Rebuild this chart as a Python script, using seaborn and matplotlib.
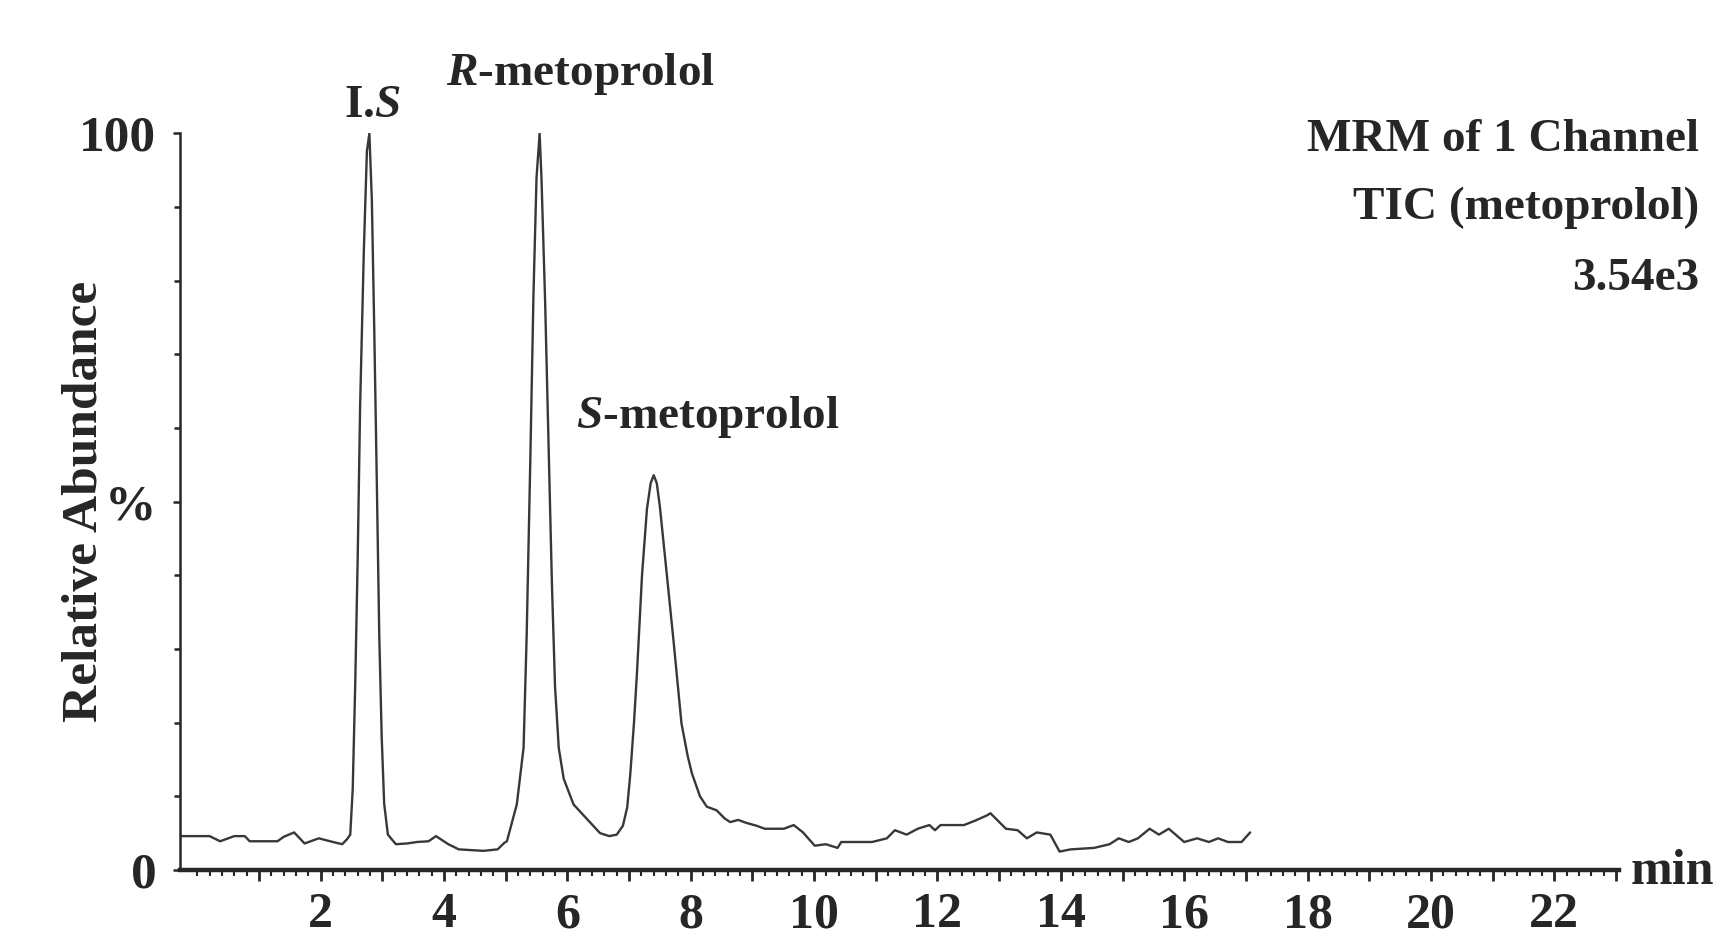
# MRM chromatogram of metoprolol enantiomers, redrawn with seaborn
import matplotlib
matplotlib.use('Agg')
import matplotlib.pyplot as plt
import seaborn as sns
import numpy as np
from matplotlib.ticker import FixedLocator

# retention time (min) and relative abundance (%)
time_min = [
    -0.28, 0.20, 0.37, 0.60, 0.77, 0.85, 1.30, 1.40, 1.57, 1.74, 1.97, 2.20, 2.35, 2.43,
    2.48, 2.52, 2.56, 2.60, 2.64, 2.70, 2.75, 2.79, 2.83, 2.87, 2.91, 2.95, 2.99, 3.03, 3.09,
    3.22, 3.40, 3.56, 3.75, 3.87, 4.07, 4.24, 4.64, 4.87, 4.98,
    5.02, 5.18, 5.29, 5.34, 5.40, 5.45, 5.50, 5.55, 5.58, 5.64, 5.69, 5.75, 5.80, 5.86,
    5.94, 6.10, 6.32, 6.53, 6.68, 6.80, 6.90, 6.97, 7.02, 7.08, 7.13, 7.21, 7.29, 7.35,
    7.40, 7.45, 7.50, 7.61, 7.72, 7.85, 7.95, 8.02, 8.15, 8.26, 8.42, 8.55, 8.64, 8.77,
    8.90, 9.07, 9.20, 9.51, 9.67, 9.82, 10.01, 10.19, 10.38, 10.44, 10.94, 11.18, 11.31,
    11.50, 11.68, 11.87, 11.96, 12.05, 12.43, 12.61, 12.80, 12.86, 13.11, 13.30, 13.45,
    13.61, 13.83, 13.98, 14.16, 14.54, 14.79, 14.94, 15.10, 15.25, 15.44, 15.59, 15.75,
    16.00, 16.21, 16.40, 16.55, 16.71, 16.93, 17.07,
]
abundance = [
    4.6, 4.6, 3.9, 4.6, 4.6, 3.9, 3.9, 4.5, 5.1, 3.6, 4.3, 3.8, 3.5, 4.2,
    4.8, 11.0, 25.0, 42.0, 63.0, 84.0, 97.6, 100.0, 91.0, 73.0, 53.0, 32.0, 18.0, 9.0, 4.8,
    3.5, 3.6, 3.8, 3.9, 4.6, 3.5, 2.8, 2.6, 2.8, 3.7,
    3.9, 8.9, 16.6, 31.8, 56.0, 78.0, 94.0, 100.0, 94.0, 77.0, 59.5, 38.7, 24.9, 16.6,
    12.4, 8.9, 6.9, 5.0, 4.6, 4.8, 6.0, 8.5, 13.0, 20.0, 27.0, 40.0, 49.0, 52.5,
    53.6, 52.5, 49.3, 40.3, 31.2, 19.9, 15.5, 13.1, 10.0, 8.6, 8.1, 7.0, 6.5, 6.8,
    6.4, 6.0, 5.6, 5.6, 6.1, 5.1, 3.3, 3.5, 3.0, 3.8, 3.8, 4.3, 5.4,
    4.8, 5.6, 6.1, 5.4, 6.1, 6.1, 6.7, 7.4, 7.7, 5.6, 5.4, 4.3,
    5.1, 4.8, 2.5, 2.8, 3.0, 3.5, 4.3, 3.8, 4.3, 5.6, 4.8, 5.6,
    3.8, 4.3, 3.8, 4.3, 3.8, 3.8, 5.1,
]

y_tick_values = [0, 50, 100]
y_tick_labels = ['0', '%', '100']
x_tick_values = list(range(1, 24))
x_tick_labels = [str(v) if v % 2 == 0 else '' for v in x_tick_values]

sns.set_style('ticks')
plt.rcParams['font.family'] = ['Liberation Serif', 'DejaVu Serif']
plt.rcParams['font.weight'] = 'bold'
plt.rcParams['mathtext.fontset'] = 'custom'
plt.rcParams['mathtext.rm'] = 'Liberation Serif:bold'
plt.rcParams['mathtext.bfit'] = 'Liberation Serif:italic:bold'
plt.rcParams['mathtext.it'] = 'Liberation Serif:italic:bold'

fig = plt.figure(figsize=(17.16, 9.44), dpi=100)
ax = fig.add_axes([0.1049, 0.0784, 0.8386, 0.7802])

sns.lineplot(x=time_min, y=abundance, ax=ax, color='#383838', linewidth=1.7,
             sort=False, estimator=None)

ax.set_xlim(-0.28, 23.05)
ax.set_ylim(0, 100)
sns.despine(ax=ax)
ax.spines['bottom'].set_linewidth(3.2)
ax.spines['left'].set_linewidth(1.8)

ax.set_yticks(y_tick_values)
ax.set_yticklabels(y_tick_labels)
ax.yaxis.set_minor_locator(FixedLocator(np.arange(10, 100, 10)))
ax.tick_params(axis='y', which='major', length=5, width=1.8, pad=12, labelsize=37)
ax.tick_params(axis='y', which='minor', length=4, width=1.8)

ax.set_xticks(x_tick_values)
ax.set_xticklabels(x_tick_labels)
ax.xaxis.set_minor_locator(FixedLocator(np.arange(0, 23.01, 0.2)))
ax.tick_params(axis='x', which='major', length=8, width=2, pad=8, labelsize=36)
ax.tick_params(axis='x', which='minor', length=4, width=1.5)

ax.set_xlabel('')
ax.set_ylabel('Relative Abundance', fontsize=37, fontweight='bold')
ax.yaxis.set_label_coords(-0.066, 0.5)
ax.yaxis.label.set_verticalalignment('center')

# peak labels
ax.text(2.84, 103.7, r'I.$\mathbfit{S}$', ha='center', va='center', fontsize=34,
        clip_on=False)
ax.text(6.22, 108.1, r'$\mathbfit{R}$-metoprolol', ha='center', va='center',
        fontsize=34, clip_on=False)
ax.text(8.27, 61.5, r'$\mathbfit{S}$-metoprolol', ha='center', va='center',
        fontsize=34)

# channel info block and axis unit
fig.text(0.990, 1 - 140 / 944, 'MRM of 1 Channel', ha='right', va='center', fontsize=34)
fig.text(0.990, 1 - 208 / 944, 'TIC (metoprolol)', ha='right', va='center', fontsize=34)
fig.text(0.990, 1 - 279 / 944, '3.54e3', ha='right', va='center', fontsize=34)
fig.text(1631 / 1716, 1 - 884 / 944, 'min', ha='left', va='baseline', fontsize=36)

fig.savefig('out.png', dpi=100)
